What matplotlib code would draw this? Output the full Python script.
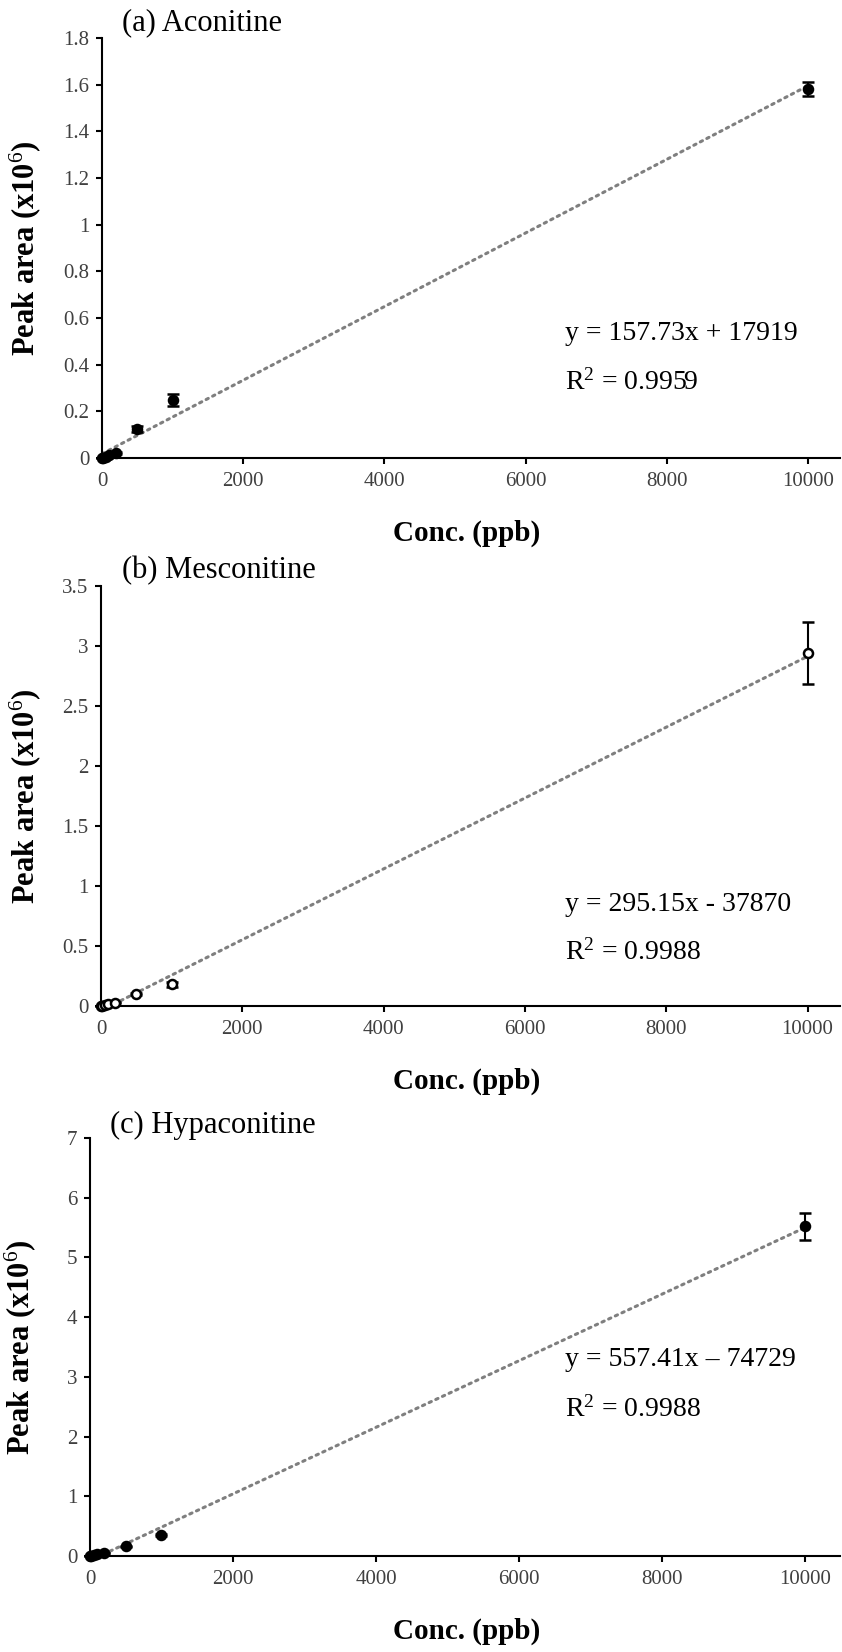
import matplotlib
matplotlib.use("Agg")
import matplotlib.pyplot as plt

plt.rcParams['font.family'] = ['Liberation Serif', 'DejaVu Serif']
plt.rcParams['mathtext.fontset'] = 'custom'
plt.rcParams['mathtext.rm'] = 'Liberation Serif'
plt.rcParams['mathtext.it'] = 'Liberation Serif:italic'
plt.rcParams['mathtext.bf'] = 'Liberation Serif:bold'

W, H = 842, 1652

# concentrations (ppb)
conc = [1, 10, 50, 100, 200, 500, 1000, 10000]

# peak areas (x10^6) and error bars
aconitine = [0.0003, 0.0015, 0.006, 0.012, 0.022, 0.126, 0.249, 1.581]
aconitine_err = [0.0002, 0.0005, 0.001, 0.002, 0.004, 0.013, 0.025, 0.03]
mesconitine = [0.0005, 0.002, 0.01, 0.015, 0.027, 0.10, 0.18, 2.94]
mesconitine_err = [0.0002, 0.0005, 0.001, 0.002, 0.003, 0.008, 0.02, 0.26]
hypaconitine = [0.0005, 0.003, 0.015, 0.03, 0.05, 0.16, 0.35, 5.52]
hypaconitine_err = [0.0002, 0.0005, 0.001, 0.003, 0.005, 0.01, 0.02, 0.22]

# trendline (slope, intercept) in raw peak area units
fits = [(157.73, 17919), (295.15, -37870), (557.41, -74729)]
eq_text = ["y = 157.73x + 17919", "y = 295.15x - 37870", "y = 557.41x \u2013 74729"]
r2_text = ["R$^2$ = 0.9959", "R$^2$ = 0.9988", "R$^2$ = 0.9988"]
titles = ["(a) Aconitine", "(b) Mesconitine", "(c) Hypaconitine"]
ymax = [1.8, 3.5, 7]
ystep = [0.2, 0.5, 1]
ytick_labels = [
    ["0", "0.2", "0.4", "0.6", "0.8", "1", "1.2", "1.4", "1.6", "1.8"],
    ["0", "0.5", "1", "1.5", "2", "2.5", "3", "3.5"],
    ["0", "1", "2", "3", "4", "5", "6", "7"],
]
xticks = [0, 2000, 4000, 6000, 8000, 10000]

series = [(aconitine, aconitine_err), (mesconitine, mesconitine_err),
          (hypaconitine, hypaconitine_err)]

# pixel boxes: left, right, top, bottom
boxes = [(102, 840, 38, 458), (101, 840, 586, 1006), (90, 840, 1138, 1556)]
xmax = [10455, 10460, 10490]
eq_y = [(333, 382), (904, 952), (1360, 1409)]
title_pos = [(122, 23), (122, 571), (110, 1125)]
ylab_x = [25, 25, 20]

fig = plt.figure(figsize=(W / 100, H / 100), dpi=100)


def fx(x):
    return x / W


def fy(y):
    return 1 - y / H


for i in range(3):
    l, r, t, b = boxes[i]
    ax = fig.add_axes([fx(l), fy(b), (r - l) / W, (b - t) / H])
    vals, errs = series[i]

    # dotted linear trendline across the data range
    x0, x1 = conc[0], conc[-1]
    s, c0 = fits[i]
    ax.plot([x0, x1], [(s * x0 + c0) / 1e6, (s * x1 + c0) / 1e6],
            color='#7f7f7f', lw=2.2, linestyle=(0, (0.8, 1.6)),
            dash_capstyle='round', zorder=2, clip_on=False)

    face = 'white' if i == 1 else 'black'
    ax.errorbar(conc, vals, yerr=errs, fmt='o', color='black', ms=6.5,
                mfc=face, mec='black', mew=1.8, ecolor='black', elinewidth=1.5,
                capsize=4, capthick=1.5, zorder=3, clip_on=False)

    ax.set_xlim(0, xmax[i])
    ax.set_ylim(0, ymax[i])
    n = len(ytick_labels[i])
    ax.set_yticks([k * ystep[i] for k in range(n)])
    ax.set_yticklabels(ytick_labels[i])
    ax.set_xticks(xticks)
    ax.set_xticklabels([str(v) for v in xticks])
    for sp in ['top', 'right']:
        ax.spines[sp].set_visible(False)
    for sp in ['left', 'bottom']:
        ax.spines[sp].set_linewidth(1.5)
        ax.spines[sp].set_color('black')
    ax.tick_params(direction='out', length=4, width=1.5, color='black',
                   labelsize=15, labelcolor='#404040')
    ax.tick_params(axis='x', pad=6)
    ax.tick_params(axis='y', pad=5)

    fig.text(fx(565), fy(eq_y[i][0]), eq_text[i], fontsize=20, va='center', ha='left')
    fig.text(fx(565), fy(eq_y[i][1]), r2_text[i], fontsize=20, va='center', ha='left')

    fig.text(fx(title_pos[i][0]), fy(title_pos[i][1]), titles[i], fontsize=22,
             va='center', ha='left')
    fig.text(fx(ylab_x[i]), fy((t + b) / 2), r'Peak area (x10$^{6}$)',
             fontsize=22, fontweight='bold', rotation=90, va='center', ha='center')
    fig.text(fx(467), fy(b + 75), 'Conc. (ppb)', fontsize=21, fontweight='bold',
             va='center', ha='center')

fig.savefig('out.png', dpi=100)
